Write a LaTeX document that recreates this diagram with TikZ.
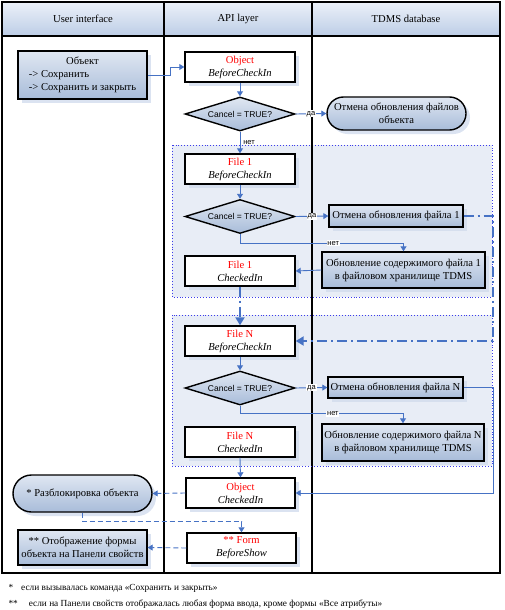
\documentclass[tikz,border=0pt]{standalone}
\usepackage{fontspec}
\setmainfont{Liberation Serif}
\newfontfamily\sansf{Liberation Sans}
\usetikzlibrary{arrows.meta,shapes.geometric,shapes.misc,shadows}
\definecolor{flowblue}{RGB}{70,114,196}
\definecolor{boxtop}{RGB}{224,231,242}
\definecolor{boxbot}{RGB}{168,188,217}
\definecolor{hdtop}{RGB}{236,241,249}
\definecolor{hdbot}{RGB}{188,205,230}
\definecolor{grpfill}{RGB}{232,237,246}
\definecolor{grpline}{RGB}{60,60,235}
\definecolor{shadowblue}{RGB}{210,220,237}
\begin{document}
\begin{tikzpicture}[x=1pt, y=-1pt, font=\fontsize{10.6}{13}\selectfont,
    shade/.style={drop shadow={shadow xshift=4pt, shadow yshift=-4pt, fill=shadowblue, opacity=.8}},
    event/.style={draw, line width=1.4pt, fill=white, shade, minimum width=110pt, minimum height=30pt, inner sep=0pt, align=center},
    action/.style={draw, line width=1.4pt, top color=boxtop, bottom color=boxbot, shade, inner sep=2pt, align=center},
    pill/.style={action, rounded rectangle},
    check/.style={draw, line width=1.4pt, diamond, top color=boxtop, bottom color=boxbot, aspect=3.2, minimum width=110pt, minimum height=34pt, inner sep=0pt, font=\sansf\fontsize{8.5}{10}\selectfont},
    flow/.style={flowblue, line width=0.9pt, -{Triangle[width=6pt,length=5pt]}},
    lab/.style={fill=white, inner sep=0.8pt, text=black, font=\sansf\fontsize{7.5}{8}\selectfont},
    loopline/.style={flowblue, line width=2pt, dash pattern=on 10pt off 4pt on 2pt off 4pt, -{Triangle[width=9pt,length=8pt]}},
    hidden/.style={flowblue, line width=0.9pt, dash pattern=on 5pt off 3pt, -{Triangle[width=6pt,length=5pt]}},
    header/.style={top color=hdtop, bottom color=hdbot, minimum height=34pt, inner sep=0pt}]
    \useasboundingbox (0,0) rectangle (505,610);

    % Lanes
    \node[header, minimum width=162pt] (ui) at (83,19) {User interface};
    \node[header, minimum width=148pt] (api) at (238,19) {API layer};
    \node[header, minimum width=188pt] (db) at (406,19) {TDMS database};
    \draw[line width=1.6pt] (2,2) rectangle (500,573);
    \draw[line width=1.6pt] (2,36) -- (500,36);
    \draw[line width=1.6pt] (164,2) -- (164,573);
    \draw[line width=1.6pt] (312,2) -- (312,573);

    % File groups
    \draw[grpline, dotted, line width=0.9pt, fill=grpfill] (172,145) rectangle (492,297);
    \draw[grpline, dotted, line width=0.9pt, fill=grpfill] (172,315) rectangle (492,466);
    \draw[line width=1.6pt] (312,145) -- (312,466);

    % Object check-in
    \node[action, minimum width=129pt, minimum height=48pt] (obj) at (82.5,75) {\begin{tabular}{@{}l@{}}\multicolumn{1}{c}{Объект}\\-> Сохранить\\-> Сохранить и закрыть\end{tabular}};
    \node[event] (objb) at (240,67) {\textcolor{red}{Object}\\\textit{BeforeCheckIn}};
    \node[check] (chk0) at (240,114) {Cancel = TRUE?};
    \node[pill, minimum width=139pt, minimum height=33pt, inner sep=0pt] (undo0) at (396.5,113.5) {Отмена обновления файлов\\объекта};

    % File 1
    \node[event] (f1b) at (240,169) {\textcolor{red}{File 1}\\\textit{BeforeCheckIn}};
    \node[check] (chk1) at (240,216.5) {Cancel = TRUE?};
    \node[action, minimum width=134pt, minimum height=22pt, inner sep=0pt] (undo1) at (396,216) {Отмена обновления файла 1};
    \node[action, minimum width=163pt, minimum height=36pt, inner sep=0pt] (upd1) at (403.5,270) {Обновление содержимого файла 1\\в файловом хранилище TDMS};
    \node[event] (f1c) at (240,271) {\textcolor{red}{File 1}\\\textit{CheckedIn}};

    % File N
    \node[event] (fnb) at (240,341) {\textcolor{red}{File N}\\\textit{BeforeCheckIn}};
    \node[check] (chkn) at (240,388) {Cancel = TRUE?};
    \node[action, minimum width=135pt, minimum height=21pt, inner sep=0pt] (undon) at (395.5,387.5) {Отмена обновления файла N};
    \node[action, minimum width=162pt, minimum height=37pt, inner sep=0pt] (updn) at (403,442.5) {Обновление содержимого файла N\\в файловом хранилище TDMS};
    \node[event] (fnc) at (240,442) {\textcolor{red}{File N}\\\textit{CheckedIn}};

    % After check-in
    \node[event, minimum width=109pt] (objc) at (240.5,493) {\textcolor{red}{Object}\\\textit{CheckedIn}};
    \node[pill, minimum width=139pt, minimum height=37pt, inner sep=0pt] (unlock) at (82.5,493.5) {* Разблокировка объекта};
    \node[event, minimum width=109pt] (form) at (241.5,548) {\textcolor{red}{** Form}\\\textit{BeforeShow}};
    \node[action, minimum width=129pt, minimum height=35pt, inner sep=0pt] (panel) at (82.5,547.5) {** Отображение формы\\объекта на Панели свойств};

    % Connectors
    \draw[flow] (obj.east) -- ++(23,0) |- (objb.west);
    \draw[flow] (objb.south) -- (chk0.north);
    \draw[flow] (chk0.east) -- node[lab] {да} (undo0.west);
    \draw[flow] (chk0.south) -- node[lab, right, xshift=2pt] {нет} (f1b.north);
    \draw[flow] (f1b.south) -- (chk1.north);
    \draw[flow] (chk1.east) -- node[lab] {да} (undo1.west);
    \draw[flow] (chk1.south) -- ++(0,9) -| node[lab, pos=0.285] {нет} (upd1.north);
    \draw[flow] (upd1.west) -- (f1c.east);
    \draw[loopline] (undo1.east) -- ++(29,0) |- (fnb.east);
    \draw[loopline] (f1c.south) -- (fnb.north);
    \draw[flow] (fnb.south) -- (chkn.north);
    \draw[flow] (chkn.east) -- node[lab] {да} (undon.west);
    \draw[flow] (chkn.south) -- ++(0,8) -| node[lab, pos=0.285] {нет} (updn.north);
    \draw[flow] (fnc.south) -- (objc.north);
    \draw[flow] (undon.east) -- ++(30,0) |- (objc.east);
    \draw[hidden] (objc.west) -- (unlock.east);
    \draw[hidden] (unlock.south) -- ++(0,9) -| (form.north);
    \draw[hidden] (form.west) -- (panel.east);

    % Footnotes
    \node[anchor=west, font=\fontsize{9.3}{11}\selectfont] (note1) at (5,588) {*\hspace{8pt}если вызывалась команда «Сохранить и закрыть»};
    \node[anchor=west, font=\fontsize{9.3}{11}\selectfont] (note2) at (5,604) {**\hspace{11pt}если на Панели свойств отображалась любая форма ввода, кроме формы «Все атрибуты»};
\end{tikzpicture}
\end{document}
